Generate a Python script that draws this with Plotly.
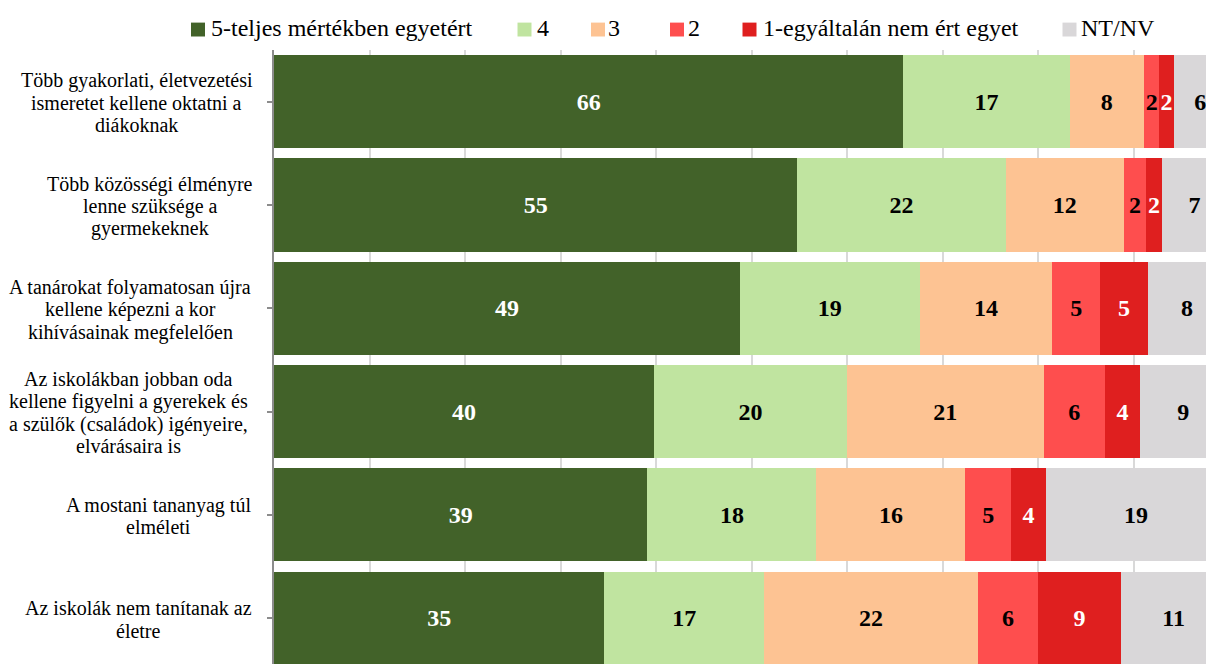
import plotly.graph_objects as go

category_lines = [
    ["Több gyakorlati, életvezetési", "ismeretet kellene oktatni a", "diákoknak"],
    ["Több közösségi élményre", "lenne szüksége a", "gyermekeknek"],
    ["A tanárokat folyamatosan újra", "kellene képezni a kor", "kihívásainak megfelelően"],
    ["Az iskolákban jobban oda", "kellene figyelni a gyerekek és", "a szülők (családok) igényeire,", "elvárásaira is"],
    ["A mostani tananyag túl", "elméleti"],
    ["Az iskolák nem tanítanak az", "életre"],
]

series_names = ["5-teljes mértékben egyetért", "4", "3", "2", "1-egyáltalán nem ért egyet", "NT/NV"]

v5 = [65.9, 54.8, 48.8, 39.8, 39.1, 34.6]
v4 = [17.4, 21.8, 18.8, 20.2, 17.7, 16.7]
v3 = [7.8, 12.4, 13.9, 20.6, 15.6, 22.4]
v2 = [1.6, 2.3, 5.0, 6.4, 4.8, 6.3]
v1 = [1.5, 1.7, 5.0, 3.7, 3.6, 8.7]
vnt = [5.6, 6.8, 8.2, 9.0, 18.9, 11.0]

labels5 = [66, 55, 49, 40, 39, 35]
labels4 = [17, 22, 19, 20, 18, 17]
labels3 = [8, 12, 14, 21, 16, 22]
labels2 = [2, 2, 5, 6, 5, 6]
labels1 = [2, 2, 5, 4, 4, 9]
labelsnt = [6, 7, 8, 9, 19, 11]

colors = ["#426229", "#C0E4A0", "#FDC393", "#FE4E4E", "#DF1F1F", "#D9D7D9"]
text_colors = ["white", "black", "black", "black", "white", "black"]

values = [v5, v4, v3, v2, v1, vnt]
labels = [labels5, labels4, labels3, labels2, labels1, labelsnt]

FONT = "Liberation Serif"

# figure geometry (page body has an 8px margin)
OFF = 8
W, H = 1206, 656
ML, MT = 266, 42
PW, PH = W - ML, H - MT


def px_x(xs):
    return (xs - OFF - ML) / PW


def px_y(ys):
    return 1 - (ys - OFF - MT) / PH


fig = go.Figure()
for name, vals, labs, col, tcol in zip(series_names, values, labels, colors, text_colors):
    fig.add_trace(go.Bar(
        y=list(range(len(category_lines))),
        x=vals,
        name=name,
        orientation="h",
        marker=dict(color=col, line=dict(width=0)),
        text=[str(l) for l in labs],
        textposition="inside",
        insidetextanchor="middle",
        textangle=0,
        constraintext="none",
        textfont=dict(family=FONT, size=24, color=tcol, weight="bold"),
        hoverinfo="skip",
        showlegend=False,
    ))

# category labels: centred blocks, one annotation per line for tight line spacing
block_centers = [136.5, 150.0, 130.3, 128.0, 158.3, 138.5]
LINE = 22.3
for i, (lines, cx) in enumerate(zip(category_lines, block_centers)):
    n = len(lines)
    for k, line in enumerate(lines):
        fig.add_annotation(
            x=px_x(cx), xref="paper", xanchor="center",
            y=i, yref="y", yanchor="middle",
            yshift=-(k - (n - 1) / 2) * LINE - 1.5,
            text=line, showarrow=False,
            font=dict(family=FONT, size=20, color="black"),
        )

# legend drawn manually to match item spacing
legend_sq_left = [191.0, 517.5, 591.0, 670.0, 742.5, 1062.5]
legend_text_left = [208.8, 535.0, 606.0, 686.0, 760.5, 1078.5]
SQ = 14
sq_top, sq_bot = 22.6, 36.5
for name, col, sx, tx in zip(series_names, colors, legend_sq_left, legend_text_left):
    fig.add_shape(
        type="rect", xref="paper", yref="paper",
        x0=px_x(sx), x1=px_x(sx + SQ), y0=px_y(sq_bot), y1=px_y(sq_top),
        fillcolor=col, line=dict(width=0), layer="above",
    )
    fig.add_annotation(
        x=px_x(tx), xref="paper", xanchor="left",
        y=px_y(28.4), yref="paper", yanchor="middle",
        text=name, showarrow=False,
        font=dict(family=FONT, size=24, color="black"),
    )

fig.update_layout(
    width=W, height=H,
    margin=dict(l=ML, r=0, t=MT, b=0),
    barmode="stack",
    bargap=0.097,
    plot_bgcolor="white",
    paper_bgcolor="white",
    font=dict(family=FONT, color="black"),
    showlegend=False,
    xaxis=dict(
        range=[0, PW / 9.55],
        dtick=10,
        showgrid=True, gridcolor="#D9D9D9", gridwidth=1.5,
        showticklabels=False, zeroline=False, showline=False,
        fixedrange=True,
    ),
    yaxis=dict(
        range=[5.444, -0.5],
        showticklabels=False,
        showline=True, linecolor="#8C8C8C", linewidth=2,
        ticks="outside", tickson="boundaries", ticklen=5, tickcolor="#8C8C8C", tickwidth=1.5,
        showgrid=False, zeroline=False,
        tickmode="array", tickvals=list(range(len(category_lines))),
        fixedrange=True,
    ),
)

fig.write_html("out.html")
